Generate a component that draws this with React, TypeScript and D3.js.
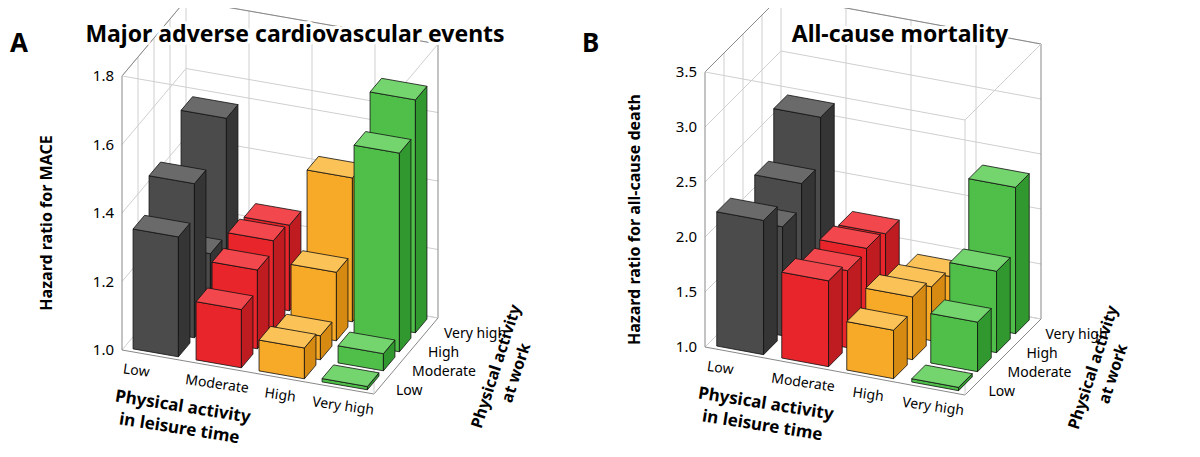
import React from "react";
import * as d3 from "d3";

const leisureLevels = ["Low", "Moderate", "High", "Very high"];
const workLevels = ["Low", "Moderate", "High", "Very high"];

// values indexed [work Low, Moderate, High, Very high]
const maceLow = [1.35, 1.45, 1.19, 1.53];
const maceModerate = [1.17, 1.23, 1.26, 1.25];
const maceHigh = [1.09, 1.07, 1.2, 1.42];
const maceVeryHigh = [1.0, 1.05, 1.58, 1.68];
const maceTicks = [1.0, 1.2, 1.4, 1.6, 1.8];

const mortLow = [2.22, 1.99, 2.21, 2.64];
const mortModerate = [1.78, 1.7, 1.73, 1.69];
const mortHigh = [1.44, 1.57, 1.49, 1.41];
const mortVeryHigh = [1.0, 1.45, 1.74, 2.33];
const mortTicks = [1.0, 1.5, 2.0, 2.5, 3.0, 3.5];

const palette = [
  { front: "#4b4b4b", side: "#353535", top: "#6a6a6a" },
  { front: "#e8252b", side: "#bf1c21", top: "#f2474c" },
  { front: "#f7a928", side: "#d68a12", top: "#fbc258" },
  { front: "#4fbf4a", side: "#30982f", top: "#74d56f" },
];

const FONT = "'Noto Sans', 'Open Sans', sans-serif";

interface PanelProps {
  letter: string;
  letterX: number;
  title: string;
  titleX: number;
  yTitle: string;
  yTitleX: number;
  values: number[][];
  ticks: number[];
  x0: number;
  y0: number;
  ux: number;
  uy: number;
  vx: number;
  vy: number;
  yTop: number;
}

const Panel: React.FC<PanelProps> = (p) => {
  const z = d3
    .scaleLinear()
    .domain([p.ticks[0], p.ticks[p.ticks.length - 1]])
    .range([0, p.y0 - p.yTop]);
  const proj = (i: number, j: number, v: number): [number, number] => [
    p.x0 + i * p.ux + j * p.vx,
    p.y0 + i * p.uy + j * p.vy - z(v),
  ];
  const poly = (pts: [number, number][]) =>
    d3.line()(pts.concat([pts[0]])) || "";
  const zMin = p.ticks[0];
  const zMax = p.ticks[p.ticks.length - 1];
  const grid = "#cfcfcf";
  const gridLines: React.ReactNode[] = [];
  p.ticks.forEach((t, k) => {
    gridLines.push(
      <path key={"l" + k} d={d3.line()([proj(0, 0, t), proj(0, 4, t), proj(4, 4, t)]) || ""} stroke={grid} fill="none" />
    );
  });
  for (let k = 1; k < 4; k++) {
    gridLines.push(<path key={"vb" + k} d={d3.line()([proj(k, 4, zMin), proj(k, 4, zMax)]) || ""} stroke={grid} />);
    gridLines.push(<path key={"vl" + k} d={d3.line()([proj(0, k, zMin), proj(0, k, zMax)]) || ""} stroke={grid} />);
  }
  const w = 0.72;
  const off = 0.14;
  const bars: React.ReactNode[] = [];
  for (let j = 3; j >= 0; j--) {
    for (let i = 0; i < 4; i++) {
      const v = p.values[i][j];
      const c = palette[i];
      const a = i + off, b = i + off + w;
      const s = j + off, e = j + off + w;
      const h = Math.max(v, zMin + (zMax - zMin) * 0.012);
      bars.push(
        <g key={`b${i}-${j}`} stroke="#111" strokeWidth={0.8} strokeLinejoin="round">
          <path d={poly([proj(a, s, zMin), proj(b, s, zMin), proj(b, s, h), proj(a, s, h)])} fill={c.front} />
          <path d={poly([proj(b, s, zMin), proj(b, e, zMin), proj(b, e, h), proj(b, s, h)])} fill={c.side} />
          <path d={poly([proj(a, s, h), proj(b, s, h), proj(b, e, h), proj(a, e, h)])} fill={c.top} />
        </g>
      );
    }
  }
  const edge = "#888";
  const [fx, fy] = proj(0, 0, zMin);
  const [wx, wy] = proj(4, 2, zMin);
  return (
    <g fontFamily={FONT}>
      {gridLines}
      <path d={d3.line()([proj(0, 0, zMin), proj(0, 0, zMax), proj(0, 4, zMax), proj(4, 4, zMax), proj(4, 4, zMin)]) || ""} stroke={edge} fill="none" />
      <path d={d3.line()([proj(0, 4, zMax), proj(0, 4, zMin), proj(4, 4, zMin)]) || ""} stroke={grid} fill="none" />
      <path d={d3.line()([proj(0, 0, zMax), proj(4, 0, zMax), proj(4, 4, zMax)]) || ""} stroke={grid} fill="none" />
      <path d={d3.line()([proj(0, 0, zMin), proj(4, 0, zMin), proj(4, 4, zMin)]) || ""} stroke={edge} fill="none" />
      <path d={d3.line()([proj(4, 0, zMin), proj(4, 0, zMax)]) || ""} stroke={grid} fill="none" />
      {bars}
      {p.ticks.map((t) => {
        const [x, y] = proj(0, 0, t);
        return (
          <text key={t} x={x - 8} y={y + 5} fontSize={15} textAnchor="end">{t.toFixed(1)}</text>
        );
      })}
      <text transform={`translate(${p.yTitleX},${(fy + p.yTop) / 2 + 10}) rotate(-90)`} fontSize={16} fontWeight={700} textAnchor="middle">{p.yTitle}</text>
      {leisureLevels.map((l, i) => {
        const [x, y] = proj(i + 0.5, 0, zMin);
        return (
          <text key={l} x={x - (i === 0 ? 18 : 0)} y={y + 22} fontSize={14} textAnchor="middle" transform={`rotate(8,${x},${y + 22})`}>{l}</text>
        );
      })}
      {workLevels.map((l, j) => {
        const [x, y] = proj(4, j + 0.5, zMin);
        return (
          <text key={l} x={x + 14} y={y + 10} fontSize={14}>{l}</text>
        );
      })}
      <text transform={`translate(${fx + 60},${fy + 62}) rotate(9)`} fontSize={17} fontWeight={700} textAnchor="middle">
        <tspan x={0} dy={0}>Physical activity</tspan>
        <tspan x={0} dy={22}>in leisure time</tspan>
      </text>
      <text transform={`translate(${wx + 95},${wy + 12}) rotate(-72)`} fontSize={16} fontWeight={700} textAnchor="middle">
        <tspan x={0} dy={0}>Physical activity</tspan>
        <tspan x={0} dy={21}>at work</tspan>
      </text>
      <text x={p.letterX} y={52} fontSize={26} fontWeight={700}>{p.letter}</text>
      <text x={p.titleX} y={42} fontSize={23} fontWeight={700} textAnchor="middle"
        stroke="#fff" strokeWidth={6} paintOrder="stroke" strokeLinejoin="round">{p.title}</text>
    </g>
  );
};

const App: React.FC = () => {
  const maceValues = [maceLow, maceModerate, maceHigh, maceVeryHigh];
  const mortValues = [mortLow, mortModerate, mortHigh, mortVeryHigh];
  return (
    <svg width={1200} height={457} style={{ display: "block", margin: -8 }}>
      <rect width={1200} height={457} fill="#fff" />
      <Panel letter="A" letterX={10} title="Major adverse cardiovascular events" titleX={295}
        yTitle="Hazard ratio for MACE" yTitleX={52} values={maceValues} ticks={maceTicks}
        x0={122} y0={350} ux={63} uy={11} vx={16} vy={-19} yTop={76} />
      <Panel letter="B" letterX={582} title="All-cause mortality" titleX={900}
        yTitle="Hazard ratio for all-cause death" yTitleX={640} values={mortValues} ticks={mortTicks}
        x0={705} y0={347} ux={65} uy={12} vx={19} vy={-19} yTop={72} />
    </svg>
  );
};

export default App;
